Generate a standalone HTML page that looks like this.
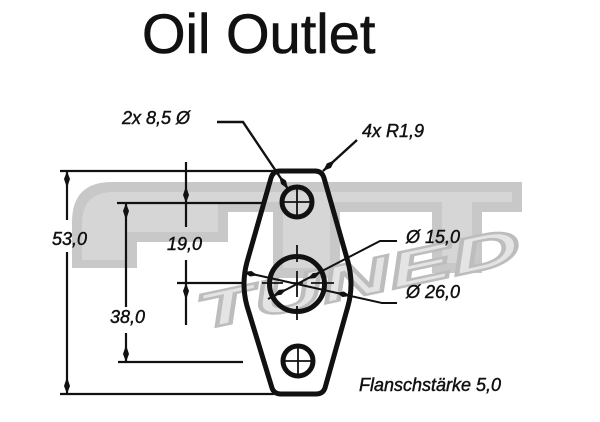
<!DOCTYPE html>
<html><head><meta charset="utf-8"><style>
html,body{margin:0;padding:0;background:#fff;width:600px;height:422px;overflow:hidden}
svg{display:block}
text{font-family:"Liberation Sans",Arial,sans-serif}
.lb{font-size:18px;font-style:italic;fill:#111;stroke:#111;stroke-width:0.45px}
</style></head><body>
<svg width="600" height="422" viewBox="0 0 600 422" xmlns="http://www.w3.org/2000/svg">
<!-- watermark FTT -->
<path d="M72,268 L72,222 Q72,182 112,182 L522,182 L522,212 L482,212 L482,273 L432,273 L432,212 L340,212 L340,278 L273,278 L273,212 L228,212 L228,242 L137,242 L137,268 Z" fill="#c8c8c8"/>
<path d="M82,260 L82,224 Q82,192 114,192 L512,192 L512,202 L472,202 L472,263 L442,263 L442,202 L330,202 L330,268 L283,268 L283,202 L218,202 L218,232 L127,232 L127,260 Z" fill="#d6d6d6"/>
<!-- watermark TUNED -->
<g transform="translate(200,330) rotate(-12)">
<text x="0" y="0" font-size="50" font-weight="bold" font-style="italic" textLength="330" lengthAdjust="spacingAndGlyphs" fill="#e4e4e4" stroke="#bdbdbd" stroke-width="2.5">TUNED</text>
</g>

<!-- title -->
<text x="142" y="53" font-size="56" fill="#111" stroke="#111" stroke-width="0.6">Oil Outlet</text>

<g stroke="#111" fill="none" stroke-linecap="butt">
<!-- extension lines -->
<line x1="60" y1="171" x2="276" y2="171" stroke-width="2.2"/>
<line x1="60" y1="394" x2="274" y2="394" stroke-width="2.2"/>
<line x1="117" y1="203" x2="266" y2="203" stroke-width="2.2"/>
<line x1="118" y1="362" x2="243" y2="362" stroke-width="2.2"/>
<line x1="177" y1="283" x2="243" y2="283" stroke-width="2.2"/>
<!-- dimension verticals -->
<line x1="67" y1="171" x2="67" y2="220" stroke-width="2.2"/>
<line x1="67" y1="252" x2="67" y2="394" stroke-width="2.2"/>
<line x1="126" y1="203" x2="126" y2="307" stroke-width="2.2"/>
<line x1="126" y1="333" x2="126" y2="362" stroke-width="2.2"/>
<line x1="186" y1="162" x2="186" y2="227" stroke-width="2.2"/>
<line x1="186" y1="260" x2="186" y2="325" stroke-width="2.2"/>

<!-- plate -->
<path d="M283,171 L315,171 Q322,171 324,178 L348,262 Q354,284 348,306 L325,388 Q323,394 316,394 L281,394 Q274,394 272,388 L247,306 Q241,284 247,262 L271,178 Q273,171 280,171 Z" stroke-width="5" stroke-linejoin="round"/>
<!-- holes -->
<circle cx="297" cy="202" r="15" stroke-width="5"/>
<circle cx="298" cy="361" r="15" stroke-width="5"/>
<circle cx="297" cy="284" r="27.5" stroke-width="5"/>
<!-- crosshairs small -->
<line x1="283" y1="202" x2="311" y2="202" stroke-width="1.8"/>
<line x1="297" y1="188" x2="297" y2="216" stroke-width="1.8"/>
<line x1="284" y1="361" x2="312" y2="361" stroke-width="1.8"/>
<line x1="298" y1="347" x2="298" y2="375" stroke-width="1.8"/>
<!-- center lines big hole -->
<line x1="262" y1="283" x2="283" y2="283" stroke-width="1.8"/>
<line x1="291" y1="283" x2="303" y2="283" stroke-width="1.8"/>
<line x1="311" y1="283" x2="334" y2="283" stroke-width="1.8"/>
<line x1="297" y1="245" x2="297" y2="262" stroke-width="1.8"/>
<line x1="297" y1="271" x2="297" y2="297" stroke-width="1.8"/>
<line x1="297" y1="306" x2="297" y2="320" stroke-width="1.8"/>

<!-- leaders -->
<polyline points="217,122 243,122 288,189" stroke-width="2.4"/>
<line x1="357" y1="140" x2="323" y2="171" stroke-width="2.4"/>
<polyline points="397,241 380,241 268,299" stroke-width="2"/>
<polyline points="397,303 382,303 243,272" stroke-width="2"/>
</g>

<!-- arrowheads (spindles) -->
<g fill="#111">
<polygon points="67,171 70,179 67,188 64,179"/>
<polygon points="67,394 70,386 67,377 64,386"/>
<polygon points="126,203 129,211 126,220 123,211"/>
<polygon points="126,362 129,354 126,345 123,354"/>
<polygon points="186,203 189,195 186,186 183,195"/>
<polygon points="186,283 189,291 186,300 183,291"/>
<g transform="translate(288,189) rotate(56.1)"><polygon points="0,0 -8,3 -16,0 -8,-3"/></g>
<g transform="translate(323,171) rotate(137.6)"><polygon points="0,0 -8,3 -16,0 -8,-3"/></g>
<g transform="translate(321,272) rotate(-27.4)"><polygon points="0,0 -8,2.8 -15,0 -8,-2.8"/></g>
<g transform="translate(273,296) rotate(152.6)"><polygon points="0,0 -8,2.8 -15,0 -8,-2.8"/></g>
<g transform="translate(351,296) rotate(12.6)"><polygon points="0,0 -8,2.8 -15,0 -8,-2.8"/></g>
<g transform="translate(243,272) rotate(192.6)"><polygon points="0,0 -8,2.8 -15,0 -8,-2.8"/></g>
</g>

<!-- labels -->
<text class="lb" x="122" y="124">2x 8,5 Ø</text>
<text class="lb" x="362" y="137">4x R1,9</text>
<text class="lb" x="52" y="245">53,0</text>
<text class="lb" x="167" y="250">19,0</text>
<text class="lb" x="110" y="323">38,0</text>
<text class="lb" x="406" y="243">Ø 15,0</text>
<text class="lb" x="406" y="298">Ø 26,0</text>
<text class="lb" x="359" y="391">Flanschstärke 5,0</text>
</svg>
</body></html>
